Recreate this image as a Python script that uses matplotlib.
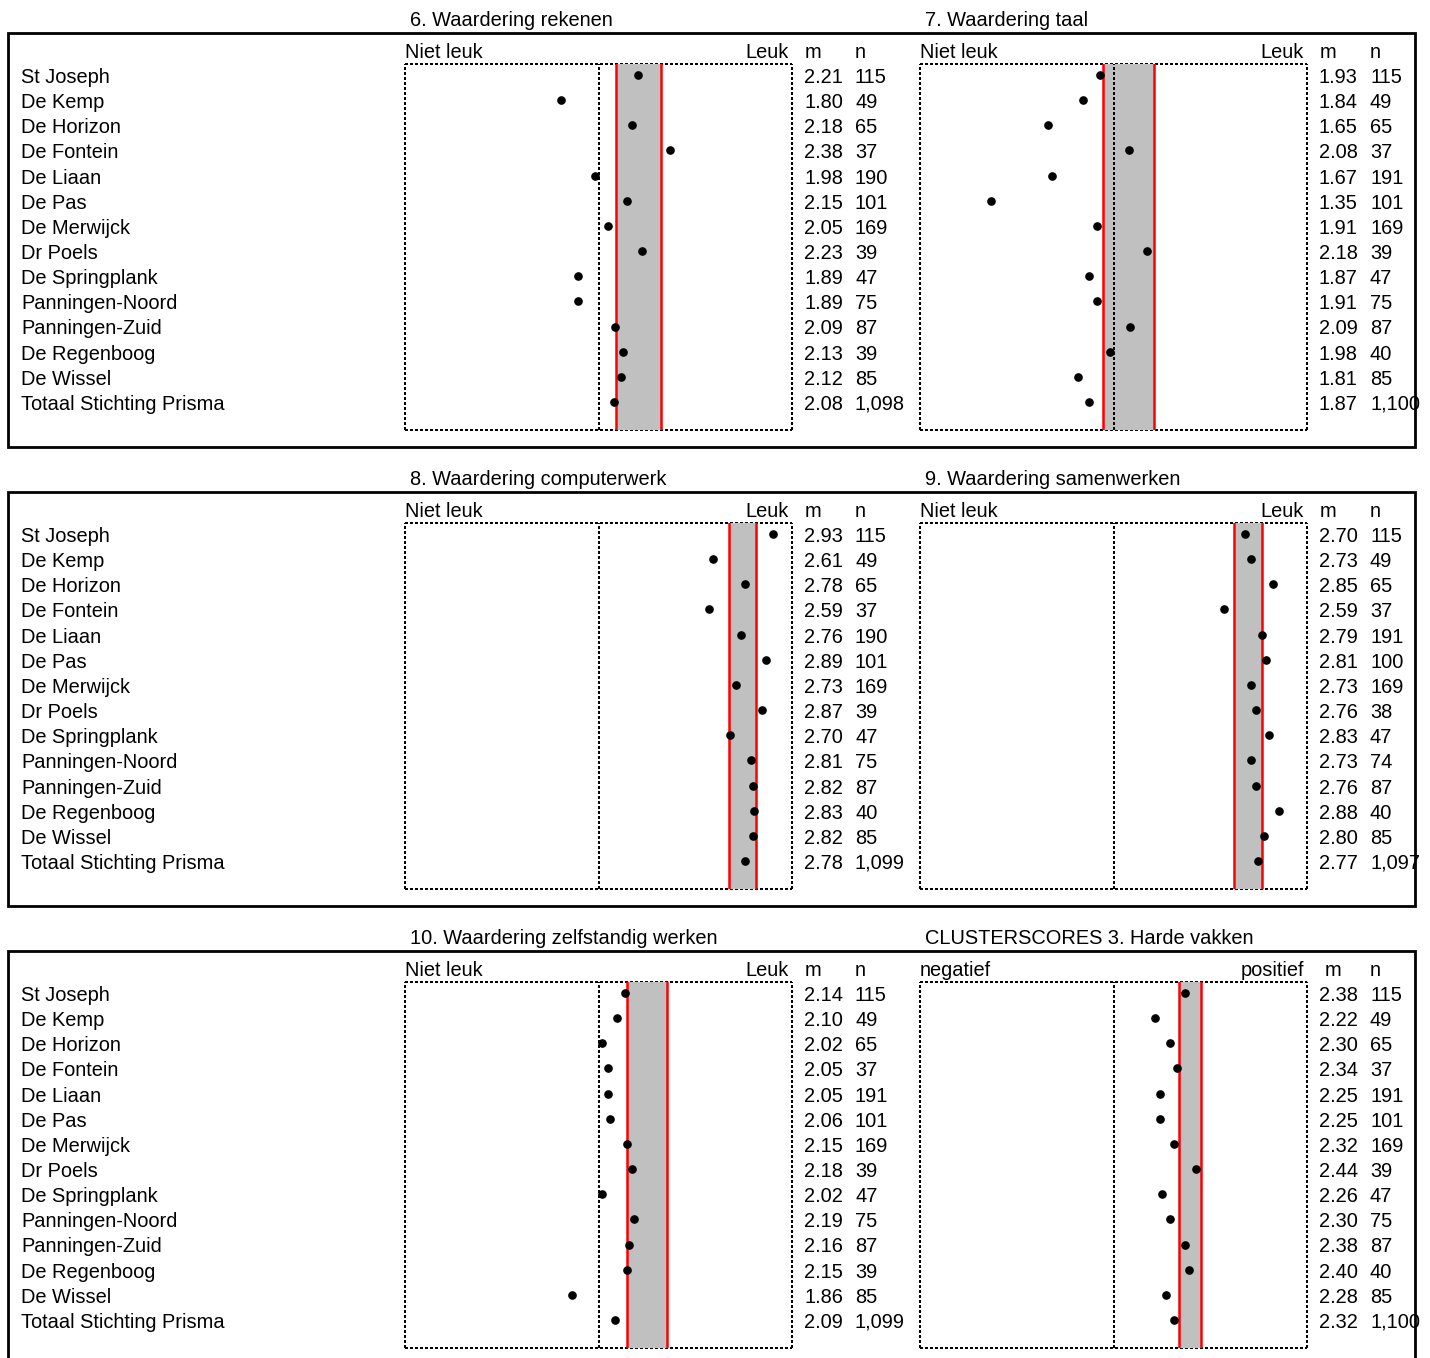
import numpy as np
import matplotlib
matplotlib.use("Agg")
import matplotlib.pyplot as plt
from matplotlib.patches import Rectangle
from matplotlib import transforms

plt.rcParams['font.family'] = ['Liberation Sans', 'DejaVu Sans']

# data
schools = ["St Joseph", "De Kemp", "De Horizon", "De Fontein", "De Liaan", "De Pas",
           "De Merwijck", "Dr Poels", "De Springplank", "Panningen-Noord",
           "Panningen-Zuid", "De Regenboog", "De Wissel", "Totaal Stichting Prisma"]

rekenen_m = [2.21, 1.80, 2.18, 2.38, 1.98, 2.15, 2.05, 2.23, 1.89, 1.89, 2.09, 2.13, 2.12, 2.08]
rekenen_n = [115, 49, 65, 37, 190, 101, 169, 39, 47, 75, 87, 39, 85, 1098]
taal_m = [1.93, 1.84, 1.65, 2.08, 1.67, 1.35, 1.91, 2.18, 1.87, 1.91, 2.09, 1.98, 1.81, 1.87]
taal_n = [115, 49, 65, 37, 191, 101, 169, 39, 47, 75, 87, 40, 85, 1100]
computer_m = [2.93, 2.61, 2.78, 2.59, 2.76, 2.89, 2.73, 2.87, 2.70, 2.81, 2.82, 2.83, 2.82, 2.78]
computer_n = [115, 49, 65, 37, 190, 101, 169, 39, 47, 75, 87, 40, 85, 1099]
samen_m = [2.70, 2.73, 2.85, 2.59, 2.79, 2.81, 2.73, 2.76, 2.83, 2.73, 2.76, 2.88, 2.80, 2.77]
samen_n = [115, 49, 65, 37, 191, 100, 169, 38, 47, 74, 87, 40, 85, 1097]
zelf_m = [2.14, 2.10, 2.02, 2.05, 2.05, 2.06, 2.15, 2.18, 2.02, 2.19, 2.16, 2.15, 1.86, 2.09]
zelf_n = [115, 49, 65, 37, 191, 101, 169, 39, 47, 75, 87, 39, 85, 1099]
cluster_m = [2.38, 2.22, 2.30, 2.34, 2.25, 2.25, 2.32, 2.44, 2.26, 2.30, 2.38, 2.40, 2.28, 2.32]
cluster_n = [115, 49, 65, 37, 191, 101, 169, 39, 47, 75, 87, 40, 85, 1100]

# reference band (low, high)
rekenen_band = (2.093, 2.332)
taal_band = (1.946, 2.214)
computer_band = (2.694, 2.838)
samen_band = (2.644, 2.790)
zelf_band = (2.152, 2.364)
cluster_band = (2.348, 2.464)

titles = ["6. Waardering rekenen", "7. Waardering taal",
          "8. Waardering computerwerk", "9. Waardering samenwerken",
          "10. Waardering zelfstandig werken", "CLUSTERSCORES 3. Harde vakken"]

panels = [
    (titles[0], rekenen_m, rekenen_n, rekenen_band, "Niet leuk", "Leuk"),
    (titles[1], taal_m, taal_n, taal_band, "Niet leuk", "Leuk"),
    (titles[2], computer_m, computer_n, computer_band, "Niet leuk", "Leuk"),
    (titles[3], samen_m, samen_n, samen_band, "Niet leuk", "Leuk"),
    (titles[4], zelf_m, zelf_n, zelf_band, "Niet leuk", "Leuk"),
    (titles[5], cluster_m, cluster_n, cluster_band, "negatief", "positief"),
]

W, H = 1430, 1358
fig = plt.figure(figsize=(W / 100, H / 100), dpi=100)
FS = 14.4

box_tops = [33, 492, 951]
row_step = 25.15


def fx(px):
    return px / W


def fy(py):
    return 1 - py / H


for r, bt in enumerate(box_tops):
    fig.add_artist(Rectangle((fx(8), fy(bt + 414)), fx(1407), 414 / H,
                             transform=fig.transFigure, fill=False,
                             lw=2, edgecolor='black'))

for i, (title, m, n, band, lo_lbl, hi_lbl) in enumerate(panels):
    r, c = divmod(i, 2)
    bt = box_tops[r]
    x0 = 405 + 515 * c
    top = bt + 30.5
    bot = bt + 397
    ax = fig.add_axes([fx(x0), fy(bot), 387 / W, (bot - top) / H])
    ax.set_xlim(0.97, 3.03)
    ax.set_ylim(13 + (bot - bt - 42 - 13 * row_step) / row_step,
                -(bt + 42 - top) / row_step)
    ax.set_xticks([])
    ax.set_yticks([])
    for sp in ax.spines.values():
        sp.set_linestyle((0, (1, 1)))
        sp.set_linewidth(1.5)
        sp.set_capstyle('butt')
        sp.set_antialiased(False)
        sp.set_zorder(0.5)

    ax.axvspan(band[0], band[1], color='#c0c0c0', lw=0, zorder=1)
    ax.axvline(2, color='black', ls=(0, (1, 1)), lw=1.5, zorder=2,
               antialiased=False, dash_capstyle='butt')
    ax.axvline(band[0], color='red', lw=1.8, zorder=3)
    ax.axvline(band[1], color='red', lw=1.8, zorder=3)
    y = np.arange(len(m))
    ax.plot(m, y, 'o', color='black', ms=5.2, zorder=4, clip_on=False)

    fig.text(fx(x0 + 5), fy(bt - 7), title, fontsize=FS, va='baseline')

    head = transforms.offset_copy(
        transforms.blended_transform_factory(fig.transFigure, ax.transAxes),
        fig=fig, y=5.5, units='dots')
    ax.text(fx(x0), 1, lo_lbl, transform=head, fontsize=FS, va='baseline')
    ax.text(fx(x0 + 384), 1, hi_lbl, transform=head, fontsize=FS,
            va='baseline', ha='right')
    mx = x0 + 400 + (5 if hi_lbl == "positief" else 0)
    ax.text(fx(mx), 1, "m", transform=head, fontsize=FS, va='baseline')
    ax.text(fx(x0 + 450), 1, "n", transform=head, fontsize=FS, va='baseline')

    rows = transforms.offset_copy(
        transforms.blended_transform_factory(fig.transFigure, ax.transData),
        fig=fig, y=-8, units='dots')
    for k in range(len(m)):
        ax.text(fx(x0 + 399), k, f"{m[k]:.2f}", transform=rows, fontsize=FS,
                va='baseline', clip_on=False)
        ax.text(fx(x0 + 450), k, f"{n[k]:,}", transform=rows, fontsize=FS,
                va='baseline', clip_on=False)
        if c == 0:
            ax.text(fx(21), k, schools[k], transform=rows, fontsize=FS,
                    va='baseline', clip_on=False)

fig.savefig("out.png", dpi=100)
